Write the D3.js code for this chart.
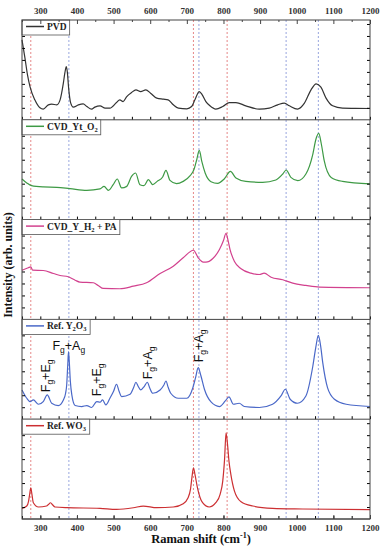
<!DOCTYPE html>
<html>
<head>
<meta charset="utf-8">
<script src="https://cdn.jsdelivr.net/npm/d3@7/dist/d3.min.js"></script>
<style>
  body { margin: 0; background: #fff; }
</style>
</head>
<body>
<div id="canvas"></div>
<script>
// Raman spectra, [shift (cm-1), intensity (arb. units, 0-100 per panel)]
const pvd = [[250,80],[258,62],[265,45],[272,33],[285,20],[299,12],[308,10.7],[322,15],[331,15.7],[345,15],[354,20],[363,37],[367,47],[371,53.3],[374,47],[377,33],[383,16.7],[390,12.7],[404,15],[417,16],[427,13.3],[440,10.7],[449,12.7],[463,14],[477,11.7],[490,11.7],[508,17.3],[517,20],[526,18.3],[536,23.3],[549,27.3],[561,30],[574,28.3],[588,30],[601,26.7],[618,21.7],[636,20.7],[649,20],[663,15],[677,11.7],[700,11],[713,13.3],[722,20],[734,28.3],[742,25],[752,18.3],[763,14],[779,10.7],[798,13.3],[816,17.3],[834,17.3],[861,14],[898,10.7],[925,11.7],[948,15],[966,16.7],[980,14],[1002,10.7],[1021,16.7],[1039,30],[1053,36],[1066,32.7],[1080,21.7],[1098,14],[1125,11.7],[1160,11.5],[1200,11.3]];

const cvdYtO2 = [[250,40.7],[263,36.7],[276,34],[308,32.7],[345,32.3],[381,31],[427,29.3],[463,30.7],[474,33.3],[486,29.3],[499,35],[510,40.7],[522,31.7],[536,33.3],[549,43.3],[560,46.7],[572,35],[583,34],[595,40],[607,35],[619,38.3],[634,42.7],[643,49.3],[654,39.3],[672,36],[690,38.3],[709,44],[720,50.7],[727,60],[734,69.3],[741,58],[750,46.7],[766,38],[784,36.3],[802,40.7],[819,48.3],[834,41.7],[861,38.3],[907,37.3],[943,39.7],[962,45.7],[971,49.7],[984,42.3],[1003,39],[1025,45.7],[1044,65.7],[1052,80],[1060,86.3],[1067,76],[1075,59],[1094,42.3],[1125,38.3],[1200,35.7]];

const cvdYH2PA = [[250,49.3],[267,51.7],[274,52.7],[279,49.3],[308,49],[336,46],[354,44],[376,42.7],[395,39.3],[408,37.3],[445,36.7],[458,34],[472,31],[517,30.7],[554,33.3],[590,36.7],[627,46],[663,53.3],[690,61.7],[718,69.3],[731,61.7],[745,57.3],[752,57.3],[771,61],[789,70],[800,79],[807,86.3],[812,80],[818,70],[830,58],[848,50.7],[875,46.3],[898,45],[911,46.3],[930,42.3],[962,39.7],[989,36.3],[1025,34],[1062,32.3],[1200,31.7]];

const refY2O3 = [[250,29.3],[263,21],[272,17.7],[281,19.3],[295,15],[308,17.7],[319,24.3],[331,16],[349,13.7],[363,19.3],[369,26],[372,34.3],[375,55],[377,67.7],[379,58],[382,38],[386,24.3],[395,13.7],[413,12.7],[427,13.7],[440,11.7],[454,17.7],[463,17],[470,19.3],[479,14.3],[490,21],[500,28],[508,35],[515,28],[522,22.7],[545,25],[555,32],[561,37],[567,33],[574,29.3],[584,33],[592,37],[599,31],[607,26],[627,29.3],[637,34],[643,38.3],[649,32],[656,26],[677,21],[700,21],[716,31],[724,42],[731,51.7],[738,44],[748,30],[766,17.3],[789,12.7],[805,18.3],[815,22.3],[827,15],[843,16],[857,12.7],[898,11.7],[934,15],[957,23.3],[969,30],[982,20],[1002,16],[1025,23.3],[1044,53.3],[1052,72],[1059,84],[1065,74],[1071,56.7],[1084,31.7],[1103,20],[1135,15],[1200,12.7]];

const refWO3 = [[250,10.7],[263,13],[268,18],[271,25],[274,31.3],[277,25],[281,16.3],[295,12],[317,13],[322,14.5],[328,16.3],[334,14],[340,12],[372,11.3],[463,10.7],[508,9.7],[554,11.3],[581,13],[618,11.3],[663,12],[690,15.3],[703,21],[710,30],[714,42],[718,51.3],[722,45],[729,31.3],[743,16.3],[761,12],[779,16.3],[791,25],[798,38],[803,60],[807,86.3],[811,75],[815,58],[820,45],[830,28],[848,17.3],[880,13],[934,10.7],[1016,10],[1200,9.3]];

const seriesNames = ["PVD", "CVD_Yt_O2", "CVD_Y_H2 + PA", "Ref. Y2O3", "Ref. WO3"];
const seriesData = [pvd, cvdYtO2, cvdYH2PA, refY2O3, refWO3];
const seriesColors = ["#333333", "#3e9a45", "#d2418e", "#4a68c8", "#cc2f32"];
// legend labels: [text, isSubscript]
const legendLabels = [
  [["PVD"]],
  [["CVD_Yt_O"], ["2", true]],
  [["CVD_Y_H"], ["2", true], [" + PA"]],
  [["Ref. Y"], ["2", true], ["O"], ["3", true]],
  [["Ref. WO"], ["3", true]]
];

// reference lines (cm-1)
const redLines = [274, 718, 810];
const blueLines = [378, 733, 971, 1059];

const xTicks = [300, 400, 500, 600, 700, 800, 900, 1000, 1100, 1200];
const xMinorTicks = [250, 350, 450, 550, 650, 750, 850, 950, 1050, 1150];
const yTicks = [12, 24, 36, 48, 60, 72, 84, 96];

// mode labels on Ref. Y2O3 panel: [shift, intensity, main, sub, main, sub, rotated]
const modeLabels = [
  [333, 69, "F", "g", "+A", "g", false],
  [326, 27, "F", "g", "+E", "g", true],
  [467, 23, "F", "g", "+E", "g", true],
  [604, 40, "F", "g", "+A", "g", true],
  [743, 57, "F", "g", "+A", "g", true]
];

const width = 386;
const height = 550;
const margin = { top: 20, left: 22, bottom: 31, right: 16 };
const serif = "'Liberation Serif', 'Times New Roman', serif";
const sans = "'Liberation Sans', Arial, sans-serif";

const svg = d3.select("#canvas").append("svg")
  .attr("width", width)
  .attr("height", height);

const x = d3.scaleLinear()
  .domain([250, 1200])
  .range([margin.left, width - margin.right]);

const panel = d3.scaleBand()
  .domain(seriesNames)
  .range([margin.top, height - margin.bottom]);

const yFor = name => d3.scaleLinear()
  .domain([0, 100])
  .range([panel(name) + panel.bandwidth(), panel(name)]);

// dashed guide lines
const guides = svg.append("g");
guides.selectAll(".red").data(redLines).enter().append("line")
  .attr("x1", d => x(d)).attr("x2", d => x(d))
  .attr("y1", margin.top).attr("y2", height - margin.bottom)
  .attr("stroke", "#e06a6a").attr("stroke-width", 0.8)
  .attr("stroke-dasharray", "2,2");
guides.selectAll(".blue").data(blueLines).enter().append("line")
  .attr("x1", d => x(d)).attr("x2", d => x(d))
  .attr("y1", margin.top).attr("y2", height - margin.bottom)
  .attr("stroke", "#7d8fd6").attr("stroke-width", 0.8)
  .attr("stroke-dasharray", "2,2");

const line = d3.line().curve(d3.curveMonotoneX);

seriesNames.forEach((name, i) => {
  const y = yFor(name);
  const g = svg.append("g");

  // spectrum
  g.append("path")
    .datum(seriesData[i])
    .attr("fill", "none")
    .attr("stroke", seriesColors[i])
    .attr("stroke-width", 1.2)
    .attr("d", line.x(d => x(d[0])).y(d => y(d[1])));

  // y ticks, both sides
  g.append("g").attr("transform", `translate(${margin.left},0)`)
    .call(d3.axisLeft(y).tickValues(yTicks).tickSize(-3).tickFormat(""))
    .call(a => a.select(".domain").remove());
  g.append("g").attr("transform", `translate(${width - margin.right},0)`)
    .call(d3.axisRight(y).tickValues(yTicks).tickSize(-3).tickFormat(""))
    .call(a => a.select(".domain").remove());

  // bottom edge of panel with inner ticks
  const bottom = panel(name) + panel.bandwidth();
  g.append("g").attr("transform", `translate(0,${bottom})`)
    .call(d3.axisBottom(x).tickValues(xTicks.concat(xMinorTicks)).tickSize(-3).tickFormat(""))
    .call(a => a.select(".domain").remove());
  g.append("line")
    .attr("x1", margin.left).attr("x2", width - margin.right)
    .attr("y1", bottom).attr("y2", bottom)
    .attr("stroke", "#444");

  // legend box
  const top = panel(name);
  const lg = g.append("g");
  const box = lg.append("rect")
    .attr("x", margin.left).attr("y", top)
    .attr("height", 15)
    .attr("fill", "#fff").attr("stroke", "#555").attr("stroke-width", 0.8);
  lg.append("line")
    .attr("x1", 26).attr("x2", 44)
    .attr("y1", top + 6.5).attr("y2", top + 6.5)
    .attr("stroke", seriesColors[i]).attr("stroke-width", 1.5);
  const txt = lg.append("text")
    .attr("x", 47).attr("y", top + 10)
    .attr("font-family", serif).attr("font-weight", "bold")
    .attr("font-size", 9.5).attr("fill", "#222");
  let shifted = false;
  legendLabels[i].forEach(seg => {
    const sub = !!seg[1];
    txt.append("tspan")
      .attr("dy", sub ? 2 : (shifted ? -2 : 0))
      .attr("font-size", sub ? 6.5 : 9.5)
      .text(seg[0]);
    shifted = sub;
  });
  const tb = txt.node().getBBox();
  box.attr("width", tb.x + tb.width + 3 - margin.left);
});

// frame
svg.append("rect")
  .attr("x", margin.left).attr("y", margin.top)
  .attr("width", width - margin.left - margin.right)
  .attr("height", height - margin.top - margin.bottom)
  .attr("fill", "none").attr("stroke", "#444");

// top and bottom axes with labels
const styleAxis = a => {
  a.select(".domain").remove();
  a.selectAll("line").attr("stroke", "#444");
  a.selectAll("text").attr("font-family", serif).attr("font-weight", "bold")
    .attr("font-size", 9).attr("fill", "#333");
};
svg.append("g").attr("transform", `translate(0,${margin.top})`)
  .call(d3.axisTop(x).tickValues(xTicks).tickSize(-4).tickPadding(6).tickFormat(d3.format("d")))
  .call(styleAxis);
svg.append("g").attr("transform", `translate(0,${margin.top})`)
  .call(d3.axisTop(x).tickValues(xMinorTicks).tickSize(-2).tickFormat(""))
  .call(styleAxis);
svg.append("g").attr("transform", `translate(0,${height - margin.bottom})`)
  .call(d3.axisBottom(x).tickValues(xTicks).tickSize(-4).tickPadding(6).tickFormat(d3.format("d")))
  .call(styleAxis);

// mode labels
const yRef = yFor("Ref. Y2O3");
modeLabels.forEach(m => {
  const t = svg.append("text")
    .attr("font-family", sans).attr("font-size", 12.5).attr("fill", "#111");
  if (m[6]) {
    t.attr("transform", `translate(${x(m[0])},${yRef(m[1])}) rotate(-90)`);
  } else {
    t.attr("x", x(m[0])).attr("y", yRef(m[1]));
  }
  t.append("tspan").text(m[2]);
  t.append("tspan").attr("dy", 3).attr("font-size", 8.5).text(m[3]);
  t.append("tspan").attr("dy", -3).text(m[4]);
  t.append("tspan").attr("dy", 3).attr("font-size", 8.5).text(m[5]);
});

// axis titles
svg.append("text")
  .attr("x", 201).attr("y", 543)
  .attr("text-anchor", "middle")
  .attr("font-family", serif).attr("font-weight", "bold").attr("font-size", 12.5)
  .attr("fill", "#111")
  .text("Raman shift (cm")
  .append("tspan").attr("dy", -5).attr("font-size", 8).text("-1")
  .select(function () { return this.parentNode; })
  .append("tspan").attr("dy", 5).text(")");

svg.append("text")
  .attr("transform", "translate(12,265) rotate(-90)")
  .attr("text-anchor", "middle")
  .attr("font-family", serif).attr("font-weight", "bold").attr("font-size", 12)
  .attr("fill", "#111")
  .text("Intensity (arb. units)");
</script>
</body>
</html>
